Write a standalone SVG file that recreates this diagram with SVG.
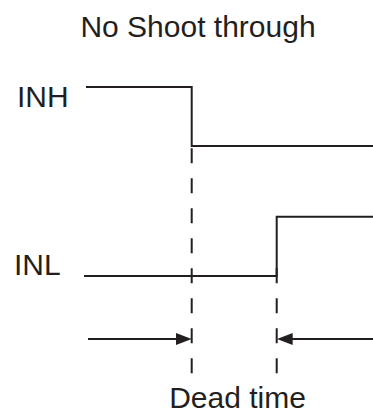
<svg xmlns="http://www.w3.org/2000/svg" width="373" height="415" viewBox="0 0 373 415">
<style>
.lbl{font-family:"Liberation Sans",Arial,sans-serif;font-size:30px;fill:#231f20}
.sig{fill:none;stroke:#231f20;stroke-width:2}
.dash{fill:none;stroke:#231f20;stroke-width:2;stroke-dasharray:15 15}
</style>
<defs>
<marker id="ah" viewBox="0 0 16 12" refX="9.3" refY="6" markerWidth="16" markerHeight="12" markerUnits="userSpaceOnUse" orient="auto">
<path d="M0,0 L16,6 L0,12 z" fill="#231f20"/>
</marker>
</defs>
<rect width="373" height="415" fill="#ffffff"/>
<g id="title"><text class="lbl" x="198" y="37" text-anchor="middle">No Shoot through</text></g>
<g id="inh">
<text class="lbl" x="17" y="107">INH</text>
<path class="sig" d="M86,87 H191.7 V146 H373"/>
</g>
<g id="inl">
<text class="lbl" x="14" y="275">INL</text>
<path class="sig" d="M84,276 H276.7 V216.7 H373"/>
</g>
<g id="connectors">
<line class="dash" x1="191.7" y1="148.3" x2="191.7" y2="376"/>
<line class="dash" x1="276.7" y1="268.3" x2="276.7" y2="376"/>
<line class="sig" x1="88" y1="339" x2="185" y2="339" marker-end="url(#ah)"/>
<line class="sig" x1="373" y1="339" x2="283.4" y2="339" marker-end="url(#ah)"/>
</g>
<g id="deadtime"><text class="lbl" x="237.5" y="408" text-anchor="middle">Dead time</text></g>
</svg>
